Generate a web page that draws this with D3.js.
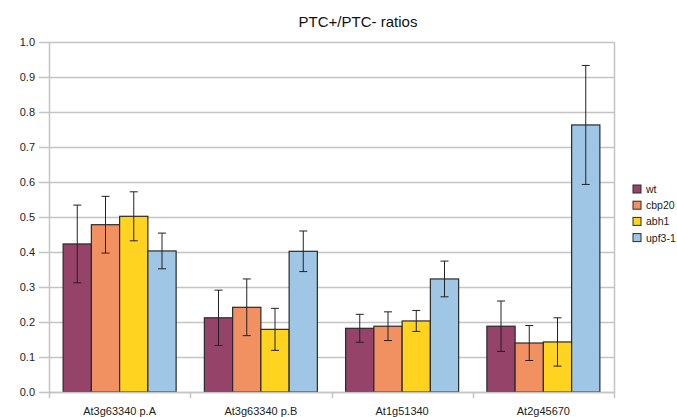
<!DOCTYPE html>
<html>
<head>
<meta charset="utf-8">
<script src="https://cdn.jsdelivr.net/npm/d3@7"></script>
<style>
    body { margin: 0; background: #fff; }
    svg { font-family: "Liberation Sans", Arial, sans-serif; }
</style>
</head>
<body>
<div id="view"></div>
<script>
var categories = ['At3g63340 p.A', 'At3g63340 p.B', 'At1g51340', 'At2g45670'];
var seriesNames = ['wt', 'cbp20', 'abh1', 'upf3-1'];
var colors = ['#964369', '#f19162', '#ffd320', '#a0c6e6'];

// one value per category, in category order
var wt = [0.423, 0.212, 0.182, 0.188];
var cbp20 = [0.478, 0.242, 0.188, 0.140];
var abh1 = [0.502, 0.179, 0.203, 0.143];
var upf3 = [0.403, 0.402, 0.323, 0.763];

// error bar half widths
var wtErr = [0.111, 0.079, 0.040, 0.072];
var cbp20Err = [0.081, 0.081, 0.041, 0.050];
var abh1Err = [0.070, 0.060, 0.030, 0.069];
var upf3Err = [0.051, 0.058, 0.051, 0.170];

var yTicks = [0, 0.1, 0.2, 0.3, 0.4, 0.5, 0.6, 0.7, 0.8, 0.9, 1.0];

var values = [wt, cbp20, abh1, upf3];
var errors = [wtErr, cbp20Err, abh1Err, upf3Err];

var width = 677, height = 417;
var margin = {top: 42, right: 63, bottom: 25, left: 49};
var plotW = width - margin.left - margin.right;
var plotH = height - margin.top - margin.bottom;

var svg = d3.select('#view').append('svg')
    .attr('width', width)
    .attr('height', height);

var x0 = d3.scaleBand().domain(categories).range([0, plotW]);
var x1 = d3.scaleBand().domain(seriesNames)
    .range([0, x0.bandwidth()])
    .paddingOuter(0.5);
var y = d3.scaleLinear().domain([0, 1]).range([plotH, 0]);

var g = svg.append('g')
    .attr('transform', `translate(${margin.left}, ${margin.top})`);

// grid
g.selectAll('line.grid')
    .data(yTicks)
    .enter()
    .append('line')
    .attr('class', 'grid')
    .attr('x1', -10)
    .attr('x2', plotW)
    .attr('y1', d => Math.round(y(d)) + 0.5)
    .attr('y2', d => Math.round(y(d)) + 0.5)
    .attr('stroke', '#c4c4c4')
    .attr('stroke-width', 1.5);

g.append('line')
    .attr('x1', plotW + 0.5).attr('x2', plotW + 0.5)
    .attr('y1', 0).attr('y2', plotH)
    .attr('stroke', '#c4c4c4')
    .attr('stroke-width', 1.5);

g.append('line')
    .attr('x1', 0.5).attr('x2', 0.5)
    .attr('y1', 0).attr('y2', plotH + 6)
    .attr('stroke', '#c4c4c4')
    .attr('stroke-width', 1.5);

// category ticks
g.selectAll('line.ctick')
    .data(categories.slice(1).concat([null]))
    .enter()
    .append('line')
    .attr('class', 'ctick')
    .attr('x1', d => d ? Math.round(x0(d)) + 0.5 : plotW + 0.5)
    .attr('x2', d => d ? Math.round(x0(d)) + 0.5 : plotW + 0.5)
    .attr('y1', plotH)
    .attr('y2', plotH + 6)
    .attr('stroke', '#c4c4c4')
    .attr('stroke-width', 1.5);

// y labels
g.selectAll('text.ylab')
    .data(yTicks)
    .enter()
    .append('text')
    .attr('class', 'ylab')
    .attr('x', -14)
    .attr('y', d => y(d) + 4)
    .attr('text-anchor', 'end')
    .attr('font-size', 11)
    .attr('fill', '#222')
    .text(d => d3.format('.1f')(d));

// bars
var groups = g.selectAll('g.cat')
    .data(categories)
    .enter()
    .append('g')
    .attr('class', 'cat')
    .attr('transform', d => `translate(${x0(d)}, 0)`);

groups.each(function(cat, ci) {
    var sel = d3.select(this);
    var rows = seriesNames.map((s, si) => ({
        name: s,
        v: values[si][ci],
        e: errors[si][ci],
        color: colors[si],
    }));
    sel.selectAll('rect')
        .data(rows)
        .enter()
        .append('rect')
        .attr('x', d => x1(d.name))
        .attr('y', d => y(d.v))
        .attr('width', x1.bandwidth())
        .attr('height', d => plotH - y(d.v))
        .attr('fill', d => d.color)
        .attr('stroke', '#2a2a2a')
        .attr('stroke-width', 1.2);

    var eb = sel.selectAll('g.err')
        .data(rows)
        .enter()
        .append('g')
        .attr('class', 'err')
        .attr('transform', d => `translate(${x1(d.name) + x1.bandwidth() / 2}, 0)`);
    eb.append('line')
        .attr('x1', 0).attr('x2', 0)
        .attr('y1', d => y(d.v + d.e))
        .attr('y2', d => y(d.v - d.e))
        .attr('stroke', '#222');
    eb.append('line')
        .attr('x1', -4).attr('x2', 4)
        .attr('y1', d => y(d.v + d.e))
        .attr('y2', d => y(d.v + d.e))
        .attr('stroke', '#222');
    eb.append('line')
        .attr('x1', -4).attr('x2', 4)
        .attr('y1', d => y(d.v - d.e))
        .attr('y2', d => y(d.v - d.e))
        .attr('stroke', '#222');
});

// bottom axis line
g.append('line')
    .attr('x1', 0).attr('x2', plotW)
    .attr('y1', plotH + 0.5).attr('y2', plotH + 0.5)
    .attr('stroke', '#c4c4c4')
    .attr('stroke-width', 1.5);

// x labels
g.selectAll('text.xlab')
    .data(categories)
    .enter()
    .append('text')
    .attr('class', 'xlab')
    .attr('x', d => x0(d) + x0.bandwidth() / 2)
    .attr('y', plotH + 23)
    .attr('text-anchor', 'middle')
    .attr('font-size', 11)
    .attr('fill', '#222')
    .text(d => d);

// title
svg.append('text')
    .attr('x', 358)
    .attr('y', 27)
    .attr('text-anchor', 'middle')
    .attr('font-size', 15)
    .attr('fill', '#111')
    .text('PTC+/PTC- ratios');

// legend
var legend = svg.selectAll('g.legend')
    .data(seriesNames)
    .enter()
    .append('g')
    .attr('class', 'legend')
    .attr('transform', (d, i) => `translate(633, ${185 + i * 16.2})`);
legend.append('rect')
    .attr('width', 8).attr('height', 8)
    .attr('fill', (d, i) => colors[i])
    .attr('stroke', '#2a2a2a');
legend.append('text')
    .attr('x', 13)
    .attr('y', 8)
    .attr('font-size', 10.5)
    .attr('fill', '#222')
    .text(d => d);
</script>
</body>
</html>
